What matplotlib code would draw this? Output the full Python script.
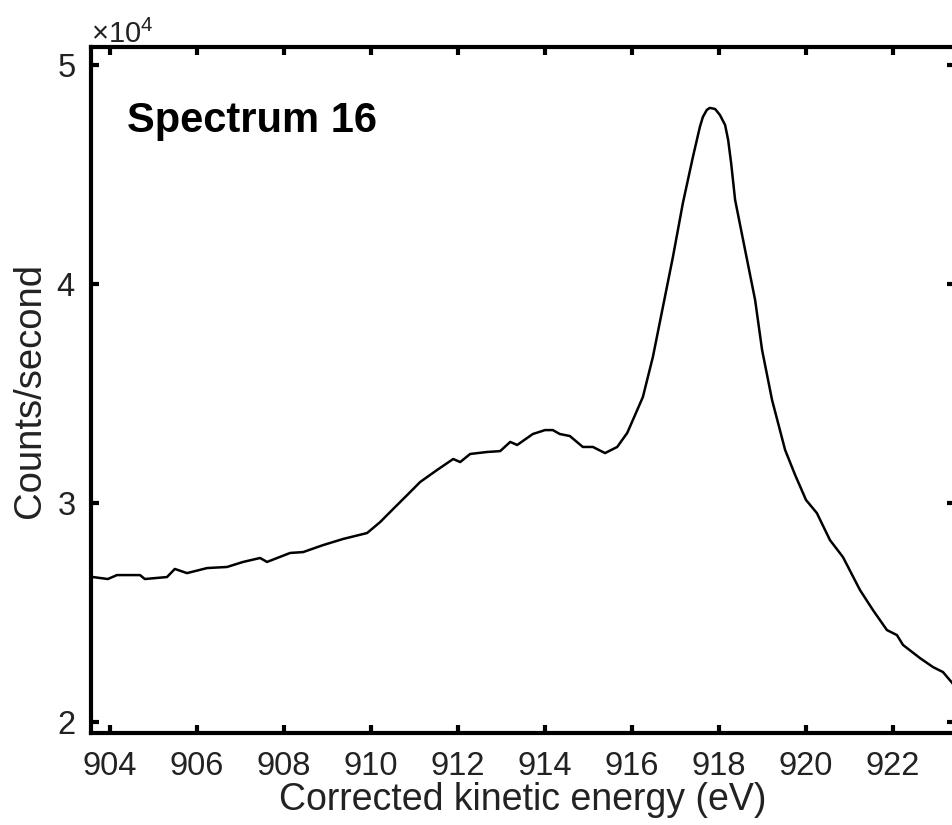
import numpy as np
import matplotlib
matplotlib.use('Agg')
from matplotlib import pyplot as plt
from matplotlib.ticker import ScalarFormatter

plt.rcParams['font.family'] = ['Liberation Sans', 'DejaVu Sans']
plt.rcParams['mathtext.default'] = 'regular'

# spectrum: energy (eV) and counts/second (x1e4)
energy = [903.61, 903.95, 904.16, 904.69, 904.80, 905.31, 905.49, 905.77, 906.23, 906.69,
          907.06, 907.45, 907.61, 908.14, 908.44, 908.90, 909.36, 909.91, 910.21, 910.44,
          910.90, 911.13, 911.52, 911.89, 912.05, 912.28, 912.67, 912.97, 913.20, 913.36,
          913.72, 914.00, 914.18, 914.34, 914.57, 914.87, 915.10, 915.38, 915.66, 915.89,
          916.02, 916.25, 916.48, 916.71, 916.94, 917.17, 917.40, 917.56, 917.63, 917.72,
          917.79, 917.91, 918.02, 918.14, 918.21, 918.28, 918.37, 918.60, 918.83, 918.99,
          919.22, 919.52, 919.75, 920.00, 920.25, 920.55, 920.85, 921.24, 921.54, 921.86,
          922.09, 922.23, 922.62, 922.92, 923.15, 923.38]
counts = [2.662, 2.653, 2.671, 2.671, 2.653, 2.662, 2.699, 2.680, 2.703, 2.708,
          2.731, 2.749, 2.731, 2.772, 2.776, 2.808, 2.836, 2.863, 2.913, 2.959,
          3.050, 3.096, 3.151, 3.201, 3.187, 3.224, 3.233, 3.237, 3.279, 3.265,
          3.315, 3.333, 3.333, 3.315, 3.306, 3.256, 3.256, 3.228, 3.256, 3.320,
          3.379, 3.484, 3.667, 3.895, 4.123, 4.370, 4.580, 4.717, 4.763, 4.795,
          4.804, 4.799, 4.772, 4.726, 4.658, 4.550, 4.384, 4.155, 3.927, 3.699,
          3.470, 3.242, 3.128, 3.014, 2.954, 2.831, 2.753, 2.603, 2.511, 2.420,
          2.397, 2.352, 2.292, 2.251, 2.228, 2.174]
counts = np.array(counts) * 1e4

xticks = [904, 906, 908, 910, 912, 914, 916, 918, 920, 922]
yticks = [20000, 30000, 40000, 50000]

W, H = 953, 825
fig = plt.figure(figsize=(W / 100, H / 100), dpi=100)
ax = fig.add_axes([91 / W, (H - 733) / H, (955 - 91) / W, (733 - 47) / H])

ax.plot(energy, counts, color='black', lw=1.8)

ax.set_xlim(903.563, 903.563 + (955 - 91) / 43.5)
ax.set_ylim(19500, 50820)
ax.set_xticks(xticks)
ax.set_yticks(yticks)

fmt = ScalarFormatter(useMathText=True)
fmt.set_powerlimits((0, 0))
ax.yaxis.set_major_formatter(fmt)
ax.yaxis.get_offset_text().set_fontsize(21)
ax.yaxis.get_offset_text().set_color('#222222')

ax.tick_params(direction='in', length=6, width=3, top=True, right=True,
               labelsize=23.5, labelcolor='#222222')
ax.tick_params(axis='x', pad=13)
ax.tick_params(axis='y', pad=11)
for s in ax.spines.values():
    s.set_linewidth(3)

ax.set_xlabel('Corrected kinetic energy (eV)', fontsize=27, color='#222222', labelpad=0)
ax.set_ylabel('Counts/second', fontsize=27.5, color='#222222', labelpad=6)

ax.text(127 / W, 1 - 132 / H, 'Spectrum 16', transform=fig.transFigure,
        fontsize=30, fontweight='bold', color='black', va='baseline', ha='left')

fig.savefig('out.png', dpi=100)
